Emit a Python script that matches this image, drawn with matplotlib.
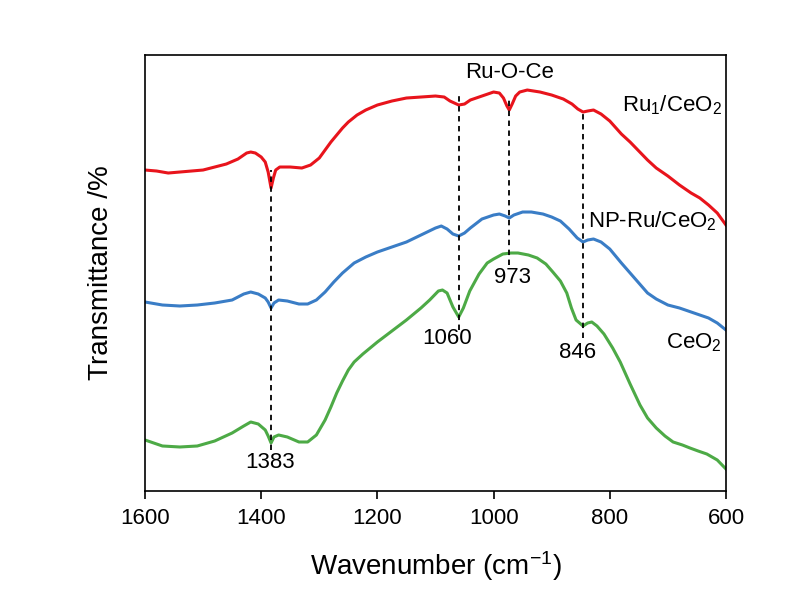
import numpy as np
import matplotlib
matplotlib.use('Agg')
import matplotlib.pyplot as plt

plt.rcParams['font.family'] = ['Liberation Sans', 'DejaVu Sans']
plt.rcParams['mathtext.fontset'] = 'custom'
plt.rcParams['mathtext.rm'] = 'Liberation Sans'

# FTIR spectra (transmittance in arbitrary units, offset stacked)
wn_ru1 = [1600, 1580, 1560, 1540, 1520, 1500, 1480, 1460, 1440, 1425, 1418, 1410, 1400, 1393,
          1388, 1383, 1379, 1375, 1368, 1350, 1330, 1315, 1300, 1290, 1280, 1270, 1260, 1250,
          1235, 1220, 1200, 1175, 1150, 1125, 1100, 1085, 1075, 1060, 1050, 1040, 1020, 1000,
          990, 983, 977, 973, 968, 962, 955, 942, 920, 900, 880, 865, 855, 846, 838, 828, 815,
          800, 780, 765, 750, 735, 720, 700, 680, 660, 645, 630, 615, 600]
t_ru1 = [321, 320, 318, 319, 320, 321, 324, 327, 332, 338, 339, 338, 334, 329,
         319, 303, 313, 321, 324, 324, 323, 326, 333, 341, 349, 356, 363, 369,
         376, 381, 386, 390, 393, 394, 395, 394, 390, 386, 387, 391, 395, 399,
         398, 393, 385, 381, 387, 395, 399, 401, 399, 396, 392, 387, 382, 379, 380, 381, 377,
         370, 357, 349, 340, 331, 323, 315, 306, 298, 293, 286, 278, 266]

wn_np = [1600, 1570, 1540, 1510, 1480, 1450, 1430, 1418, 1405, 1393, 1388, 1383, 1378, 1370,
         1355, 1335, 1320, 1305, 1290, 1275, 1260, 1240, 1220, 1200, 1175, 1150, 1125, 1100,
         1090, 1080, 1070, 1060, 1050, 1040, 1020, 1000, 990, 980, 973, 965, 950, 935, 915,
         900, 885, 870, 856, 846, 838, 828, 815, 800, 780, 765, 750, 735, 720, 700, 680, 660,
         645, 630, 615, 600]
t_np = [189, 186, 185, 186, 188, 191, 197, 199, 197, 193, 189, 183, 188, 191,
        190, 187, 187, 191, 199, 209, 218, 228, 234, 239, 244, 249, 256, 263,
        265, 262, 257, 255, 258, 263, 272, 276, 277, 275, 273, 276, 279, 279, 277,
        274, 270, 262, 253, 249, 251, 252, 249, 242, 228, 218, 208, 198, 192, 186, 183, 179,
        176, 173, 168, 161]

wn_ceo2 = [1600, 1570, 1540, 1510, 1480, 1450, 1430, 1418, 1405, 1393, 1388, 1383, 1378, 1370,
           1355, 1335, 1320, 1305, 1290, 1280, 1270, 1260, 1250, 1240, 1225, 1200, 1175, 1150,
           1125, 1110, 1095, 1088, 1080, 1070, 1060, 1052, 1041, 1025, 1011, 1000, 984, 970,
           958, 940, 925, 910, 898, 885, 874, 866, 858, 846, 838, 831, 822, 810, 795, 782,
           765, 748, 735, 720, 705, 691, 675, 662, 648, 633, 615, 600]
t_ceo2 = [51, 45, 44, 45, 50, 58, 65, 69, 67, 61, 55, 48, 54, 56,
          54, 49, 49, 56, 71, 84, 98, 110, 121, 129, 137, 149, 160, 171,
          183, 191, 200, 201, 198, 184, 174, 183, 200, 217, 228, 232, 237, 238,
          238, 236, 233, 227, 219, 210, 198, 183, 171, 165, 168, 169, 165, 157, 143, 129,
          107, 86, 73, 63, 55, 49, 46, 43, 40, 37, 31, 22]

names = ['Ru$\\mathregular{_1}$/CeO$\\mathregular{_2}$',
         'NP-Ru/CeO$\\mathregular{_2}$',
         'CeO$\\mathregular{_2}$']
colors = ['#E8141C', '#3A7DC6', '#4DAA46']

peaks = [1383, 1060, 973, 846]
peak_top = [321, 398, 391, 381]
peak_bottom = [41, 161, 226, 153]

fig = plt.figure(figsize=(7.85, 6.04), dpi=100)
ax = fig.add_axes([0.1847, 0.1871, 0.7401, 0.7218])

ax.plot(wn_ru1, t_ru1, color=colors[0], lw=2.2)
ax.plot(wn_np, t_np, color=colors[1], lw=2.2)
ax.plot(wn_ceo2, t_ceo2, color=colors[2], lw=2.2)

ax.vlines(peaks, peak_bottom, peak_top, colors='k', linestyles=(0, (3, 2.5)), lw=1.3)

# curve names at the right edge
ax.text(607, 380, names[0], fontsize=16, ha='right', va='baseline')
ax.text(616, 264, names[1], fontsize=16, ha='right', va='baseline')
ax.text(607, 143, names[2], fontsize=16, ha='right', va='baseline')

# peak labels
ax.text(1385, 28, '1383', fontsize=16, ha='center', va='center')
ax.text(1080, 153, '1060', fontsize=16, ha='center', va='center')
ax.text(968, 214, '973', fontsize=16, ha='center', va='center')
ax.text(855, 139, '846', fontsize=16, ha='center', va='center')
ax.text(972, 419, 'Ru-O-Ce', fontsize=16, ha='center', va='center')

ax.set_xlim(1600, 600)
ax.set_ylim(0, 436)
ax.set_xticks([1600, 1400, 1200, 1000, 800, 600])
ax.set_yticks([])
ax.tick_params(axis='x', direction='out', length=6, width=1.2, labelsize=16, pad=6)
for sp in ax.spines.values():
    sp.set_linewidth(1.2)

ax.set_xlabel('Wavenumber (cm$\\mathregular{^{-1}}$)', fontsize=20, labelpad=15)
ax.set_ylabel('Transmittance /%', fontsize=20, labelpad=22)

fig.savefig('out.png', dpi=100)
